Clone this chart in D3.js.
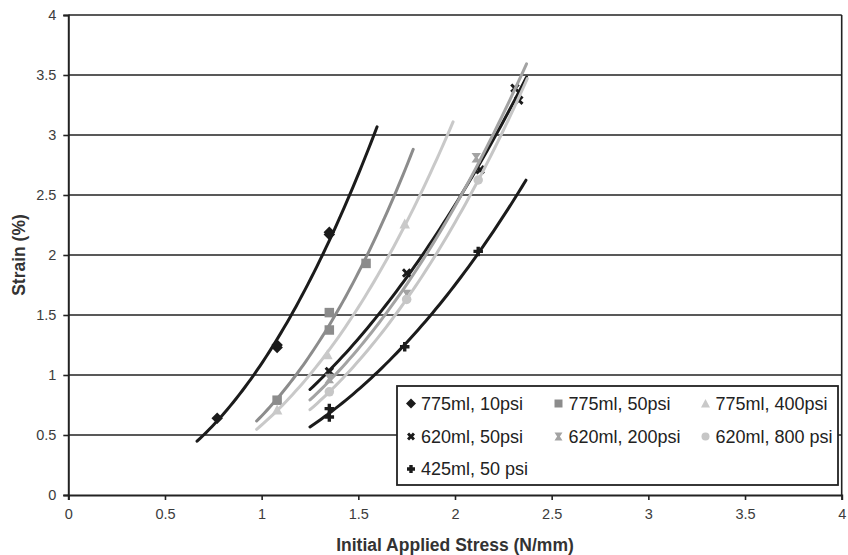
<!DOCTYPE html>
<html>
<head>
<meta charset="utf-8">
<script src="https://cdn.jsdelivr.net/npm/d3@7"></script>
<style>
  body { margin: 0; background: #fff; }
  svg { display: block; }
  text { font-family: "Liberation Sans", Arial, sans-serif; }
</style>
</head>
<body>
<svg id="chart" width="848" height="555"></svg>
<script>
// ---- data ----
const seriesNames = ["775ml, 10psi", "775ml, 50psi", "775ml, 400psi",
                     "620ml, 50psi", "620ml, 200psi", "620ml, 800 psi",
                     "425ml, 50 psi"];
const stress775_10 = [0.77, 1.08, 1.08, 1.35, 1.35];
const strain775_10 = [0.64, 1.25, 1.23, 2.19, 2.17];
const stress775_50 = [1.08, 1.35, 1.35, 1.54];
const strain775_50 = [0.79, 1.52, 1.375, 1.93];
const stress775_400 = [1.08, 1.34, 1.74];
const strain775_400 = [0.71, 1.17, 2.26];
const stress620_50 = [1.35, 1.75, 2.13, 2.31, 2.33];
const strain620_50 = [1.03, 1.85, 2.71, 3.39, 3.29];
const stress620_200 = [1.35, 1.75, 2.11];
const strain620_200 = [0.97, 1.67, 2.81];
const stress620_800 = [1.35, 1.75, 2.12];
const strain620_800 = [0.86, 1.63, 2.625];
const stress425_50 = [1.35, 1.35, 1.74, 2.12];
const strain425_50 = [0.72, 0.65, 1.236, 2.03];

// power-law trendline span (stress) for each series
const trendFrom = [0.666, 0.974, 0.974, 1.25, 1.25, 1.25, 1.25];
const trendTo   = [1.597, 1.784, 1.99, 2.37, 2.37, 2.374, 2.367];

const xTicks = [0, 0.5, 1, 1.5, 2, 2.5, 3, 3.5, 4];
const yTicks = [0, 0.5, 1, 1.5, 2, 2.5, 3, 3.5, 4];

const seriesStress = [stress775_10, stress775_50, stress775_400, stress620_50,
                      stress620_200, stress620_800, stress425_50];
const seriesStrain = [strain775_10, strain775_50, strain775_400, strain620_50,
                      strain620_200, strain620_800, strain425_50];
const seriesColor = ["#1b1b1b", "#8c8c8c", "#c9c9c9", "#1b1b1b",
                     "#a3a3a3", "#c6c6c6", "#1b1b1b"];
const seriesShape = ["diamond", "square", "triangle", "cross", "hourglass", "circle", "plus"];

// ---- layout ----
const svg = d3.select("#chart");
const x = d3.scaleLinear().domain([0, 4]).range([68.3, 841.7]);
const y = d3.scaleLinear().domain([0, 4]).range([495, 15]);
const fmt = d => String(d);

// marker path builders (pixel units, centred on 0,0)
function markerPath(shape, s) {
  const h = s / 2;
  switch (shape) {
    case "diamond": return `M0,${-h-1}L${h+1},0L0,${h+1}L${-h-1},0Z`;
    case "square": return `M${-h},${-h}H${h}V${h}H${-h}Z`;
    case "triangle": return `M0,${-h-0.5}L${h+0.5},${h}L${-h-0.5},${h}Z`;
    case "circle": return d3.arc()({innerRadius: 0, outerRadius: h, startAngle: 0, endAngle: 2 * Math.PI});
    case "hourglass": return `M${-h},${-h}H${h}L1.4,0L${h},${h}H${-h}L-1.4,0Z`;
    case "cross": {
      const w = 2.1;
      return `M${-h},${-h+w}L${-h+w},${-h}L0,${-w}L${h-w},${-h}L${h},${-h+w}L${w},0L${h},${h-w}L${h-w},${h}L0,${w}L${-h+w},${h}L${-h},${h-w}L${-w},0Z`;
    }
    case "plus": {
      const w = 1.7;
      return `M${-w},${-h}H${w}V${-w}H${h}V${w}H${w}V${h}H${-w}V${w}H${-h}V${-w}H${-w}Z`;
    }
  }
}

// ---- grid ----
svg.append("g").selectAll("line")
  .data(yTicks.filter(v => v > 0))
  .join("line")
  .attr("x1", x(0)).attr("x2", x(4))
  .attr("y1", d => y(d)).attr("y2", d => y(d))
  .attr("stroke", "#222").attr("stroke-width", 1.6);

// right frame edge
svg.append("line")
  .attr("x1", x(4)).attr("x2", x(4)).attr("y1", y(4)).attr("y2", y(0))
  .attr("stroke", "#222").attr("stroke-width", 1.6);

// ---- axes ----
const xAxis = svg.append("g").attr("transform", `translate(0,${y(0)})`)
  .call(d3.axisBottom(x).tickValues(xTicks).tickFormat(fmt).tickSize(5).tickPadding(9));
const yAxis = svg.append("g").attr("transform", `translate(${x(0)},0)`)
  .call(d3.axisLeft(y).tickValues(yTicks).tickFormat(fmt).tickSize(5).tickPadding(7));
[xAxis, yAxis].forEach(g => {
  g.select(".domain").attr("stroke", "#222").attr("stroke-width", 2);
  g.selectAll(".tick line").attr("stroke", "#222").attr("stroke-width", 1.6);
  g.selectAll(".tick text").attr("fill", "#3c3c3c")
    .style("font-size", "14.5px").style("font-family", '"Liberation Sans", Arial, sans-serif');
});

svg.append("text")
  .attr("x", 455).attr("y", 551)
  .attr("text-anchor", "middle")
  .attr("fill", "#333").style("font-size", "17.5px").style("font-weight", "bold")
  .text("Initial Applied Stress (N/mm)");
svg.append("text")
  .attr("transform", "translate(25,255) rotate(-90)")
  .attr("text-anchor", "middle")
  .attr("fill", "#333").style("font-size", "17.5px").style("font-weight", "bold")
  .text("Strain (%)");

// ---- power-law trendlines (least squares in log-log space) ----
function powerFit(xs, ys) {
  const lx = xs.map(Math.log), ly = ys.map(Math.log);
  const mx = d3.mean(lx), my = d3.mean(ly);
  const sxy = d3.sum(lx, (v, i) => (v - mx) * (ly[i] - my));
  const sxx = d3.sum(lx, v => (v - mx) * (v - mx));
  const b = sxy / sxx;
  const a = Math.exp(my - b * mx);
  return v => a * Math.pow(v, b);
}

const line = d3.line().x(d => x(d[0])).y(d => y(d[1])).curve(d3.curveLinear);
const plot = svg.append("g");

seriesNames.forEach((name, i) => {
  const f = powerFit(seriesStress[i], seriesStrain[i]);
  const xs = d3.range(0, 61).map(k => trendFrom[i] + (trendTo[i] - trendFrom[i]) * k / 60);
  const g = plot.append("g");
  g.append("path")
    .attr("d", line(xs.map(v => [v, f(v)])))
    .attr("fill", "none").attr("stroke", seriesColor[i])
    .attr("stroke-width", 3).attr("stroke-linecap", "round");
  g.selectAll("path.pt")
    .data(seriesStress[i].map((v, k) => [v, seriesStrain[i][k]]))
    .join("path").attr("class", "pt")
    .attr("transform", d => `translate(${x(d[0])},${y(d[1])})`)
    .attr("d", markerPath(seriesShape[i], 9.5))
    .attr("fill", seriesColor[i]);
});

// ---- legend ----
const legend = svg.append("g");
legend.append("rect")
  .attr("x", 397).attr("y", 386).attr("width", 441).attr("height", 99)
  .attr("fill", "#fff").attr("stroke", "#222").attr("stroke-width", 1.8);
const colX = [411, 558.5, 705.5];
const rowY = [403.5, 436.5, 469];
seriesNames.forEach((name, i) => {
  const cx = colX[i % 3], cy = rowY[Math.floor(i / 3)];
  legend.append("path")
    .attr("transform", `translate(${cx},${cy})`)
    .attr("d", markerPath(seriesShape[i], 8))
    .attr("fill", seriesColor[i]);
  legend.append("text")
    .attr("x", cx + 10).attr("y", cy).attr("dy", "0.35em")
    .attr("fill", "#222").style("font-size", "18px")
    .text(name);
});
</script>
</body>
</html>
